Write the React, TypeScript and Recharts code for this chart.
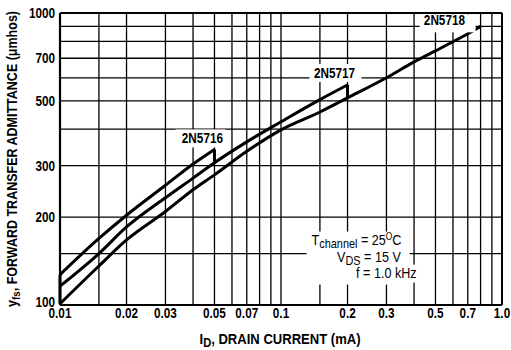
import React from 'react';
import { LineChart, Line, XAxis, YAxis, ReferenceLine, ReferenceDot, Label } from 'recharts';

const FONT = '"Liberation Sans", Arial, Helvetica, sans-serif';
const SX = 0.84;

// ---- data ----
const xTicks = [0.01, 0.02, 0.03, 0.05, 0.07, 0.1, 0.2, 0.3, 0.5, 0.7, 1.0];
const xTickLabels = ['0.01', '0.02', '0.03', '0.05', '0.07', '0.1', '0.2', '0.3', '0.5', '0.7', '1.0'];
const yTicks = [100, 200, 300, 500, 700, 1000];
const yTickLabels = ['100', '200', '300', '500', '700', '1000'];
const xGrid = [0.015, 0.02, 0.03, 0.04, 0.05, 0.06, 0.07, 0.08, 0.09, 0.1, 0.15, 0.2, 0.3, 0.4, 0.5, 0.6, 0.7, 0.8, 0.9];
const yGrid = [150, 200, 300, 400, 500, 600, 700, 800, 900];

const currents5716 = [0.01, 0.015, 0.02, 0.03, 0.04, 0.05];
const yfs5716 = [127, 169, 203, 257, 304, 341];
const currents5717 = [0.01, 0.015, 0.02, 0.03, 0.04, 0.05, 0.07, 0.1, 0.15, 0.2];
const yfs5717 = [116, 150, 185, 233, 272, 307, 362, 424, 505, 567];
const currents5718 = [0.01, 0.015, 0.02, 0.03, 0.04, 0.05, 0.07, 0.1, 0.15, 0.2, 0.3, 0.4, 0.5, 0.6, 0.7, 0.8];
const yfs5718 = [101, 136, 167, 209, 248, 279, 336, 398, 458, 512, 600, 680, 742, 797, 849, 900];

const seriesNames = ['2N5716', '2N5717', '2N5718'];

const toPoints = (xs: number[], ys: number[]) => xs.map((x, i) => ({ x, y: ys[i] }));
const s5716 = toPoints(currents5716, yfs5716);
const s5717 = toPoints(currents5717, yfs5717);
const s5718 = toPoints(currents5718, yfs5718);
const last = (a: { x: number; y: number }[]) => a[a.length - 1];
const valueAt = (a: { x: number; y: number }[], x: number) => (a.find((p) => p.x === x) as any).y;

const NText = (props: any) => {
  const { x, y, anchor = 'start', size = 14, weight = 700, children } = props;
  return (
    <g transform={`translate(${x},${y})`}>
      <text transform={`scale(${SX},1)`} textAnchor={anchor} fontFamily={FONT} fontSize={size} fontWeight={weight} fill="#000">
        {children}
      </text>
    </g>
  );
};

const XTick = (p: any) => {
  const v = p.payload?.value;
  const i = xTicks.indexOf(v);
  return <NText x={p.x} y={p.y + 10} anchor="middle">{i >= 0 ? xTickLabels[i] : String(v)}</NText>;
};

const YTick = (p: any) => {
  const v = p.payload?.value;
  const i = yTicks.indexOf(v);
  const lift = i === 0 ? 3 : 0;
  return <NText x={p.x} y={p.y + 5 - lift} anchor="end">{i >= 0 ? yTickLabels[i] : String(v)}</NText>;
};

const PartLabel = (props: any) => {
  const { cx, cy, text, tx, ty, bx, by, bw, bh } = props;
  if (cx == null || cy == null) return null;
  return (
    <g>
      <rect x={cx + bx} y={cy + by} width={bw} height={bh} fill="#fff" />
      <NText x={cx + tx} y={cy + ty} anchor="end">{text}</NText>
    </g>
  );
};

const Conditions = (props: any) => {
  const { cx, cy } = props;
  if (cx == null || cy == null) return null;
  return (
    <g>
      <rect x={cx - 41} y={cy - 22} width={103} height={53} fill="#fff" />
      <rect x={cx + 60} y={cy + 11} width={15} height={18} fill="#fff" />
      <NText x={cx - 36} y={cy - 8.6} weight={400} size={15}>
        T<tspan fontSize={13} dy={3}>channel</tspan><tspan dy={-3}> = 25</tspan>
        <tspan fontSize={10} dy={-5}>O</tspan><tspan dy={5}>C</tspan>
      </NText>
      <NText x={cx - 10.5} y={cy + 8} weight={400} size={15}>
        V<tspan fontSize={13} dy={3}>DS</tspan><tspan dy={-3}> = 15 V</tspan>
      </NText>
      <NText x={cx + 8.5} y={cy + 24.4} weight={400} size={15}>f = 1.0 kHz</NText>
    </g>
  );
};

export default function App() {
  const gridStroke = { stroke: '#000', strokeWidth: 1.3 };
  return (
    <div style={{ position: 'absolute', left: 0, top: 0, background: '#fff' }}>
      <LineChart width={511} height={350} margin={{ top: 13, right: 9, bottom: 0, left: 0 }}>
        <XAxis
          dataKey="x"
          type="number"
          scale="log"
          domain={[0.01, 1]}
          allowDataOverflow
          ticks={xTicks}
          tick={XTick}
          tickSize={0}
          tickMargin={3}
          height={45}
          interval={0}
          axisLine={{ stroke: '#000', strokeWidth: 2.2 }}
        >
          <Label
            content={(p: any) => {
              const vb = p.viewBox || {};
              return (
                <text
                  x={vb.x + vb.width / 2 - 1}
                  y={vb.y + 39}
                  textAnchor="middle"
                  textLength={161}
                  lengthAdjust="spacingAndGlyphs"
                  fontFamily={FONT}
                  fontSize={14}
                  fontWeight={700}
                  fill="#000"
                >
                  I<tspan fontSize={12} dy={3}>D</tspan>
                  <tspan dy={-3}>, DRAIN CURRENT (mA)</tspan>
                </text>
              );
            }}
          />
        </XAxis>
        <YAxis
          type="number"
          scale="log"
          domain={[100, 1000]}
          allowDataOverflow
          ticks={yTicks}
          tick={YTick}
          tickSize={0}
          tickMargin={5}
          width={60}
          interval={0}
          axisLine={{ stroke: '#000', strokeWidth: 2.2 }}
        >
          <Label
            content={(p: any) => {
              const vb = p.viewBox || {};
              const cy = vb.y + vb.height / 2;
              return (
                <text
                  transform={`translate(17, ${cy}) rotate(-90)`}
                  textAnchor="middle"
                  textLength={296}
                  lengthAdjust="spacingAndGlyphs"
                  fontFamily={FONT}
                  fontSize={14}
                  fontWeight={700}
                  fill="#000"
                >
                  y<tspan fontSize={11} dy={3}>fs</tspan>
                  <tspan dy={-3}>, FORWARD TRANSFER ADMITTANCE (μmhos)</tspan>
                </text>
              );
            }}
          />
        </YAxis>

        {xGrid.map((v) => (
          <ReferenceLine key={'gx' + v} x={v} {...gridStroke} zIndex={50} />
        ))}
        {yGrid.map((v) => (
          <ReferenceLine key={'gy' + v} y={v} {...gridStroke} zIndex={50} />
        ))}
        <ReferenceLine y={1000} stroke="#000" strokeWidth={2} zIndex={50} />
        <ReferenceLine x={1} stroke="#000" strokeWidth={2} zIndex={50} />

        <ReferenceDot
          x={last(s5716).x}
          y={last(s5716).y}
          r={0}
          zIndex={450}
          shape={(p: any) => <PartLabel {...p} text={seriesNames[0]} tx={8.5} ty={-6} bx={-39} by={-20} bw={50} bh={18} />}
        />
        <ReferenceDot
          x={last(s5717).x}
          y={last(s5717).y}
          r={0}
          zIndex={450}
          shape={(p: any) => <PartLabel {...p} text={seriesNames[1]} tx={7.5} ty={-7} bx={-38} by={-21} bw={52} bh={18} />}
        />
        <ReferenceDot
          x={last(s5718).x}
          y={last(s5718).y}
          r={0}
          zIndex={450}
          shape={(p: any) => <PartLabel {...p} text={seriesNames[2]} tx={-15.6} ty={-1.4} bx={-61} by={-12} bw={56} bh={18} />}
        />
        <ReferenceDot x={0.2} y={150} r={0} zIndex={450} shape={(p: any) => <Conditions {...p} />} />

        <ReferenceLine
          segment={[{ x: last(s5716).x, y: last(s5716).y }, { x: last(s5716).x, y: valueAt(s5717, last(s5716).x) }]}
          stroke="#000"
          strokeWidth={3}
          zIndex={400}
        />
        <ReferenceLine
          segment={[{ x: last(s5717).x, y: last(s5717).y }, { x: last(s5717).x, y: valueAt(s5718, last(s5717).x) }]}
          stroke="#000"
          strokeWidth={3}
          zIndex={400}
        />
        <ReferenceLine
          segment={[{ x: s5718[0].x, y: s5718[0].y }, { x: s5716[0].x, y: s5716[0].y }]}
          stroke="#000"
          strokeWidth={3}
          zIndex={400}
        />

        <Line data={s5716} dataKey="y" name={seriesNames[0]} type="monotone" stroke="#000" strokeWidth={3} dot={false} isAnimationActive={false} />
        <Line data={s5717} dataKey="y" name={seriesNames[1]} type="monotone" stroke="#000" strokeWidth={3} dot={false} isAnimationActive={false} />
        <Line data={s5718} dataKey="y" name={seriesNames[2]} type="monotone" stroke="#000" strokeWidth={3} dot={false} isAnimationActive={false} />
      </LineChart>
    </div>
  );
}
